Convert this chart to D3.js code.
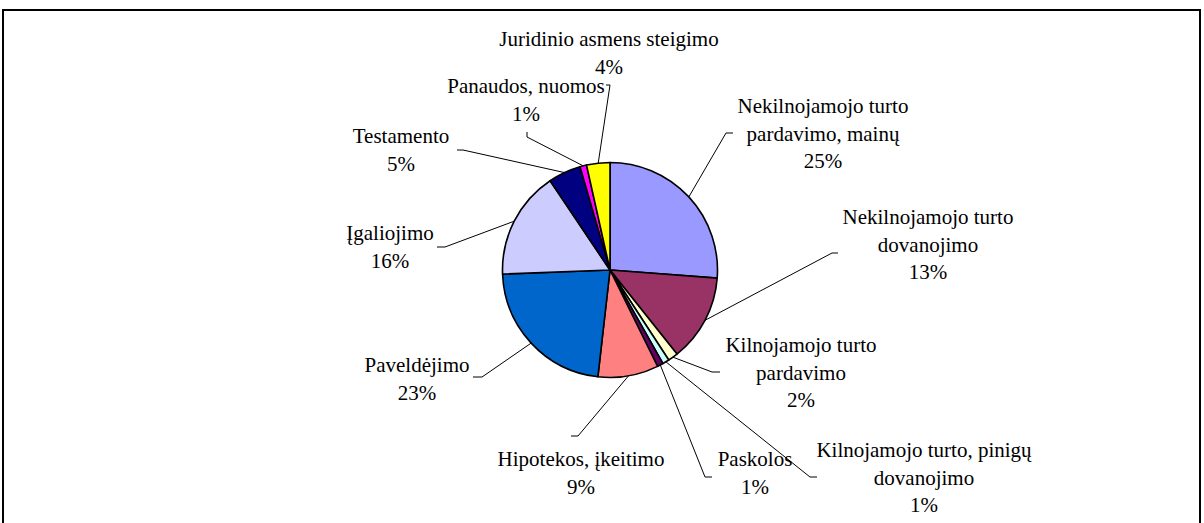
<!DOCTYPE html>
<html>
<head>
<meta charset="utf-8">
<script src="https://cdn.jsdelivr.net/npm/d3@7"></script>
<style>
  html, body { margin: 0; padding: 0; background: #fff; }
  svg { display: block; }
  text { font-family: "Liberation Serif", "Times New Roman", serif; font-size: 21px; fill: #000; }
</style>
</head>
<body>
<svg id="chart" width="1204" height="523"></svg>
<script>
// ---- data ----
const categories = [
  "Nekilnojamojo turto pardavimo, mainų",
  "Nekilnojamojo turto dovanojimo",
  "Kilnojamojo turto pardavimo",
  "Kilnojamojo turto, pinigų dovanojimo",
  "Paskolos",
  "Hipotekos, įkeitimo",
  "Paveldėjimo",
  "Įgaliojimo",
  "Testamento",
  "Panaudos, nuomos",
  "Juridinio asmens steigimo"
];
// slice sizes (share of the circle, %)
const values = [26.2, 13.1, 1.5, 1.0, 0.9, 9.1, 22.6, 16.2, 4.9, 1.0, 3.5];
// percentages as printed in the labels
const percentLabels = ["25%", "13%", "2%", "1%", "1%", "9%", "23%", "16%", "5%", "1%", "4%"];
// label lines (wrapped as in the picture)
const labelLines = [
  ["Nekilnojamojo turto", "pardavimo, mainų"],
  ["Nekilnojamojo turto", "dovanojimo"],
  ["Kilnojamojo turto", "pardavimo"],
  ["Kilnojamojo turto, pinigų", "dovanojimo"],
  ["Paskolos"],
  ["Hipotekos, įkeitimo"],
  ["Paveldėjimo"],
  ["Įgaliojimo"],
  ["Testamento"],
  ["Panaudos, nuomos"],
  ["Juridinio asmens steigimo"]
];
const colors = ["#9999FF", "#993366", "#FFFFCC", "#CCFFFF", "#660066", "#FF8080",
                "#0066CC", "#CCCCFF", "#000080", "#FF00FF", "#FFFF00"];

// ---- layout (label anchors: centre x, first baseline y; leader elbow and tick end) ----
const labelLayout = [
  { x: 823, y: 113, elbow: [726, 133], end: [733, 133] },
  { x: 928, y: 224, elbow: [832, 253], end: [838, 253] },
  { x: 801, y: 352, elbow: [712, 372], end: [720, 372] },
  { x: 924, y: 457, elbow: [810, 477], end: [817, 477] },
  { x: 755, y: 466, elbow: [705, 477], end: [712, 477] },
  { x: 581, y: 466, elbow: [578, 436], end: [571, 436] },
  { x: 417, y: 372, elbow: [482, 377], end: [473, 377] },
  { x: 390, y: 240, elbow: [445, 247], end: [437, 247] },
  { x: 401, y: 143, elbow: [463, 150], end: [457, 150] },
  { x: 526, y: 93,  elbow: [527, 137], end: [527, 132] },
  { x: 609, y: 46,  elbow: [610, 85],  end: [606, 85] }
];
const lineHeight = 27.5;

const svg = d3.select("#chart");
const cx = 610, cy = 270, R = 107.5;

// frame
svg.append("rect")
  .attr("x", 3).attr("y", 10)
  .attr("width", 1197).attr("height", 530)
  .attr("fill", "none").attr("stroke", "#000").attr("stroke-width", 2);

const pie = d3.pie().sort(null).value(d => d)(values);
const arc = d3.arc().innerRadius(0).outerRadius(R);

const g = svg.append("g").attr("transform", `translate(${cx},${cy})`);
g.selectAll("path.slice")
  .data(pie)
  .join("path")
  .attr("class", "slice")
  .attr("d", arc)
  .attr("fill", (d, i) => colors[i])
  .attr("stroke", "#000")
  .attr("stroke-width", 1.6)
  .attr("stroke-linejoin", "round");

// leader lines
const line = d3.line();
svg.selectAll("path.leader")
  .data(pie)
  .join("path")
  .attr("class", "leader")
  .attr("fill", "none")
  .attr("stroke", "#000")
  .attr("stroke-width", 1)
  .attr("d", (d, i) => {
    const a = (d.startAngle + d.endAngle) / 2;
    const p0 = [cx + R * Math.sin(a), cy - R * Math.cos(a)];
    const L = labelLayout[i];
    return line([p0, L.elbow, L.end]);
  });

// labels
const labels = svg.selectAll("text.lbl")
  .data(categories)
  .join("text")
  .attr("class", "lbl")
  .attr("font-family", "'Liberation Serif', 'Times New Roman', serif")
  .attr("text-anchor", "middle")
  .attr("x", (d, i) => labelLayout[i].x)
  .attr("y", (d, i) => labelLayout[i].y);
labels.each(function (d, i) {
  const t = d3.select(this);
  const lines = labelLines[i].concat([percentLabels[i]]);
  lines.forEach((s, k) => {
    t.append("tspan")
      .attr("x", labelLayout[i].x)
      .attr("y", labelLayout[i].y + k * lineHeight)
      .text(s);
  });
});
</script>
</body>
</html>
